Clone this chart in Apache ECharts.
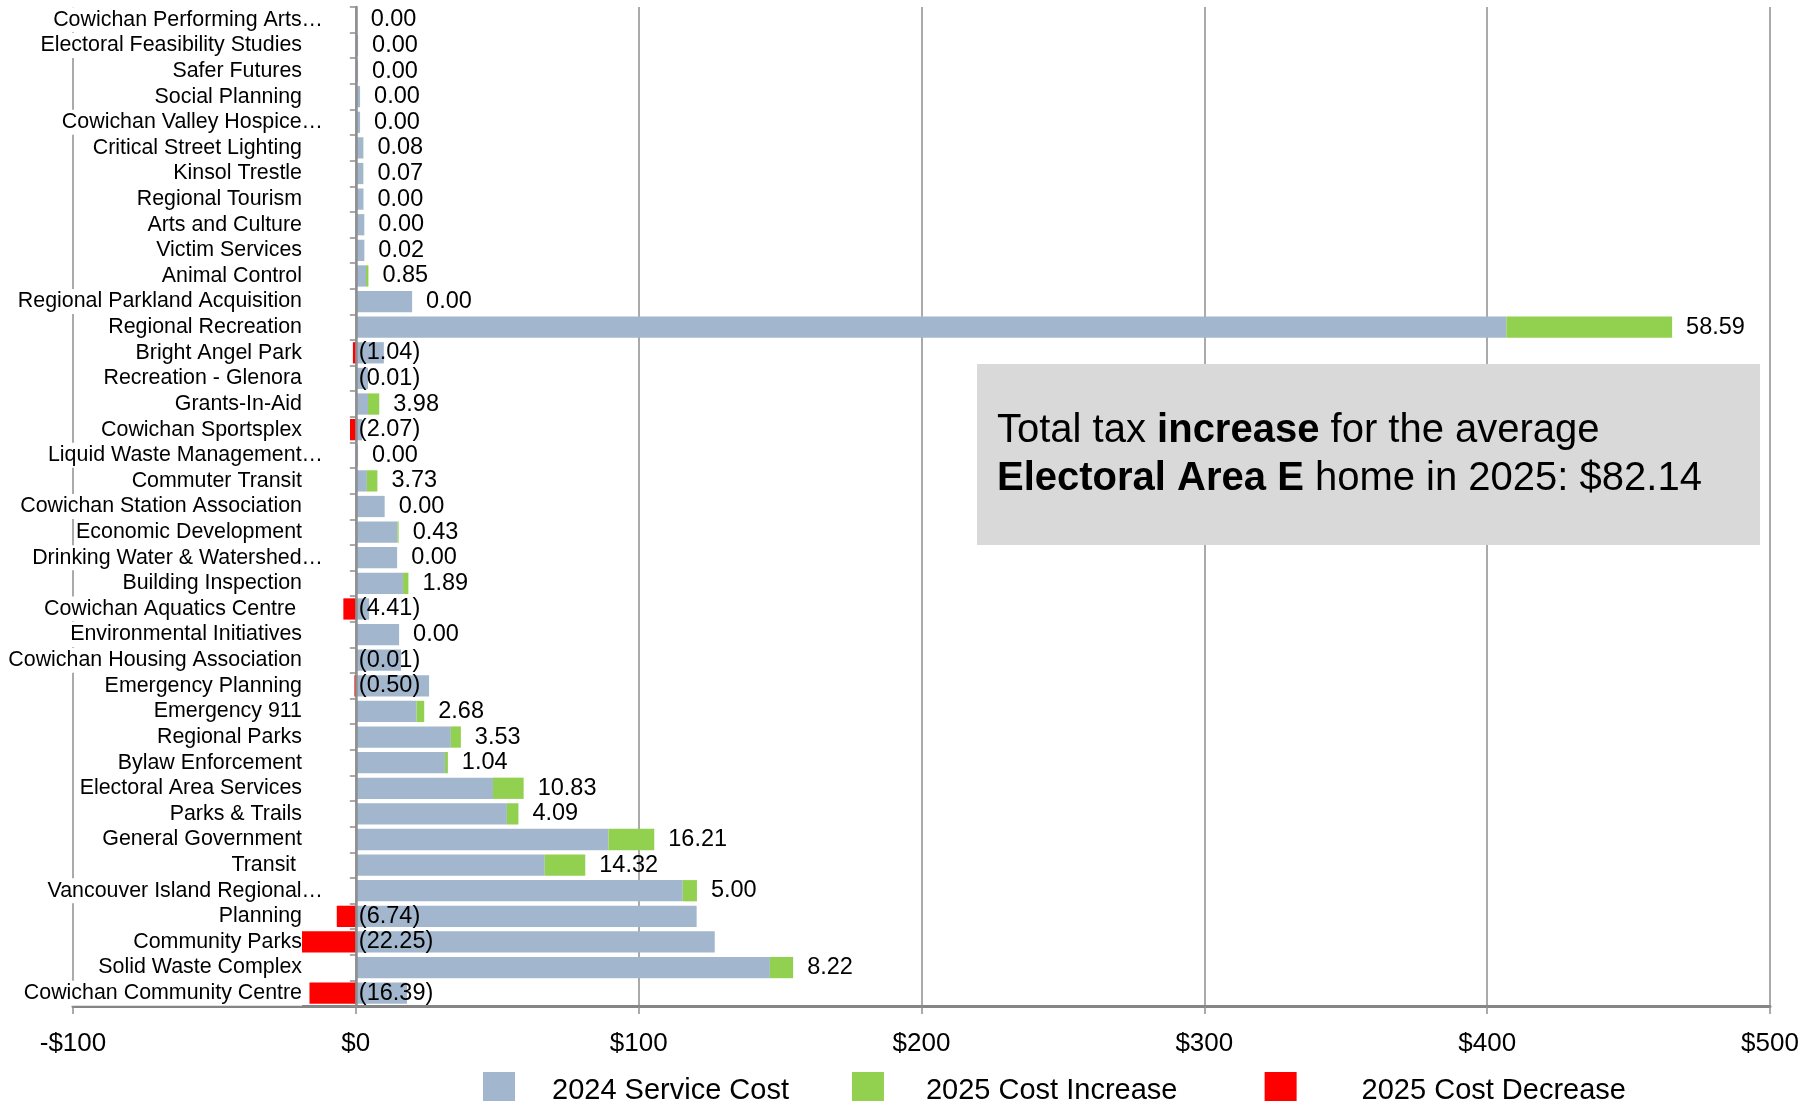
<!DOCTYPE html>
<html>
<head>
<meta charset="utf-8">
<script src="https://cdn.jsdelivr.net/npm/echarts@6/dist/echarts.min.js"></script>
<style>
  html, body { margin: 0; padding: 0; background: #fff; }
  #root { width: 1818px; height: 1101px; }
</style>
</head>
<body>
<div id="root"></div>
<script>
// service names, top to bottom
const categories = [
  'Cowichan Performing Arts…', 'Electoral Feasibility Studies', 'Safer Futures', 'Social Planning',
  'Cowichan Valley Hospice…', 'Critical Street Lighting', 'Kinsol Trestle', 'Regional Tourism',
  'Arts and Culture', 'Victim Services', 'Animal Control', 'Regional Parkland Acquisition',
  'Regional Recreation', 'Bright Angel Park', 'Recreation - Glenora', 'Grants-In-Aid',
  'Cowichan Sportsplex', 'Liquid Waste Management…', 'Commuter Transit', 'Cowichan Station Association',
  'Economic Development', 'Drinking Water & Watershed…', 'Building Inspection', 'Cowichan Aquatics Centre ',
  'Environmental Initiatives', 'Cowichan Housing Association', 'Emergency Planning', 'Emergency 911',
  'Regional Parks', 'Bylaw Enforcement', 'Electoral Area Services', 'Parks & Trails',
  'General Government', 'Transit ', 'Vancouver Island Regional…', 'Planning',
  'Community Parks', 'Solid Waste Complex', 'Cowichan Community Centre'
]

// 2024 service cost
const cost2024 = [
  0.3, 0.8, 0.8, 1.5, 1.5, 2.6, 2.6, 2.7, 3.0, 3.0, 3.6, 19.9,
  406.8, 9.9, 4.3, 4.3, 2.2, 0.8, 3.9, 10.2, 14.7, 14.6, 16.7, 4.7,
  15.3, 16.0, 25.9, 21.5, 33.6, 31.5, 48.5, 53.4, 89.3, 66.8, 115.6, 120.5,
  126.9, 146.4, 18.1
]

// 2025 change (negative = decrease)
const change2025 = [
  0.00, 0.00, 0.00, 0.00, 0.00, 0.08, 0.07, 0.00, 0.00, 0.02, 0.85, 0.00,
  58.59, -1.04, -0.01, 3.98, -2.07, 0.00, 3.73, 0.00, 0.43, 0.00, 1.89, -4.41,
  0.00, -0.01, -0.50, 2.68, 3.53, 1.04, 10.83, 4.09, 16.21, 14.32, 5.00, -6.74,
  -22.25, 8.22, -16.39
]

const xTicks = { min: -100, max: 500, step: 100 }
const seriesNames = ['2024 Service Cost', '2025 Cost Increase', '2025 Cost Decrease']

const FONT = '"Liberation Sans", Arial, sans-serif'
const GRID_GRAY = '#8e8e8e'
const GRID_LEFT = 73

const increase = change2025.map(v => v >= 0 ? v : '-')
const decrease = change2025.map(v => v < 0 ? v : '-')

const fmtChange = (i) => {
  const v = change2025[i]
  return v < 0 ? '(' + Math.abs(v).toFixed(2) + ')' : v.toFixed(2)
}

const valueLabel = {
  show: true,
  position: 'right',
  color: '#000',
  fontFamily: FONT,
  fontSize: 23.5
}

const chart = echarts.init(document.getElementById('root'), null, { renderer: 'canvas' })

const option = {
  animation: false,
  backgroundColor: '#fff',
  grid: {
    left: GRID_LEFT,
    right: 48,
    top: 7,
    bottom: 95,
    containLabel: false,
    outerBoundsMode: 'none'
  },
  xAxis: {
    type: 'value',
    min: xTicks.min,
    max: xTicks.max,
    interval: xTicks.step,
    axisLine: { show: true, onZero: false, lineStyle: { color: '#858585', width: 3 } },
    axisTick: { show: true, length: 8, lineStyle: { color: GRID_GRAY, width: 1.5 } },
    axisLabel: {
      color: '#000',
      fontFamily: FONT,
      fontSize: 26,
      margin: 25,
      formatter: v => (v < 0 ? '-$' : '$') + Math.abs(v)
    },
    splitLine: { show: true, lineStyle: { color: GRID_GRAY, width: 1.5 } }
  },
  yAxis: {
    type: 'category',
    data: categories,
    inverse: true,
    z: 3,
    axisLine: { show: true, onZero: true, lineStyle: { color: GRID_GRAY, width: 2.5 } },
    axisTick: { show: true, length: 6, lineStyle: { color: GRID_GRAY, width: 1.5 } },
    axisLabel: {
      // labels are anchored at the grid's left edge: push them to end at x = 323
      margin: GRID_LEFT - 323,
      interval: 0,
      formatter: v => v.endsWith('…') ? '{n|' + v + '}' : '{n|' + v + '}{s| }',
      rich: {
        n: { color: '#000', fontFamily: FONT, fontSize: 21.4, backgroundColor: '#fff', padding: [2, 0, 2, 2] },
        s: { width: 21, fontSize: 21.4 }
      }
    },
    splitLine: { show: false }
  },
  legend: {
    left: 478,
    top: 1067,
    icon: 'rect',
    itemWidth: 32,
    itemHeight: 38,
    itemGap: 63,
    textStyle: { color: '#000', fontFamily: FONT, fontSize: 29 },
    // a bit of trailing space after the middle entry to widen its slot
    formatter: name => name === seriesNames[1] ? name + '\u00a0\u00a0\u00a0' : name,
    data: [
      { name: seriesNames[0], textStyle: { padding: [0, 0, 0, 32] } },
      { name: seriesNames[1], textStyle: { padding: [0, 0, 0, 37] } },
      { name: seriesNames[2], textStyle: { padding: [0, 0, 0, 60] } }
    ]
  },
  series: [
    {
      name: seriesNames[0],
      type: 'bar',
      stack: 'total',
      barCategoryGap: '17%',
      itemStyle: { color: '#a2b7cd' },
      data: cost2024
    },
    {
      name: seriesNames[1],
      type: 'bar',
      stack: 'total',
      itemStyle: { color: '#92d050' },
      label: Object.assign({}, valueLabel, {
        distance: 14,
        formatter: p => fmtChange(p.dataIndex)
      }),
      data: increase
    },
    {
      name: seriesNames[2],
      type: 'bar',
      stack: 'total',
      itemStyle: { color: '#ff0000' },
      label: Object.assign({}, valueLabel, {
        distance: 3,
        formatter: p => fmtChange(p.dataIndex)
      }),
      data: decrease
    }
  ],
  graphic: [
    {
      type: 'rect',
      z: 10,
      shape: { x: 977, y: 364, width: 783, height: 181 },
      style: { fill: '#d9d9d9' }
    },
    {
      type: 'text',
      z: 11,
      x: 997,
      y: 455,
      style: {
        text: '{n|Total tax }{b|increase}{n| for the average}\n{b|Electoral Area E}{n| home in 2025: $82.14}',
        align: 'left',
        verticalAlign: 'middle',
        rich: {
          n: { fill: '#000', fontFamily: FONT, fontSize: 40, lineHeight: 48 },
          b: { fill: '#000', fontFamily: FONT, fontSize: 40, lineHeight: 48, fontWeight: 'bold' }
        }
      }
    }
  ]
}

chart.setOption(option)
</script>
</body>
</html>
